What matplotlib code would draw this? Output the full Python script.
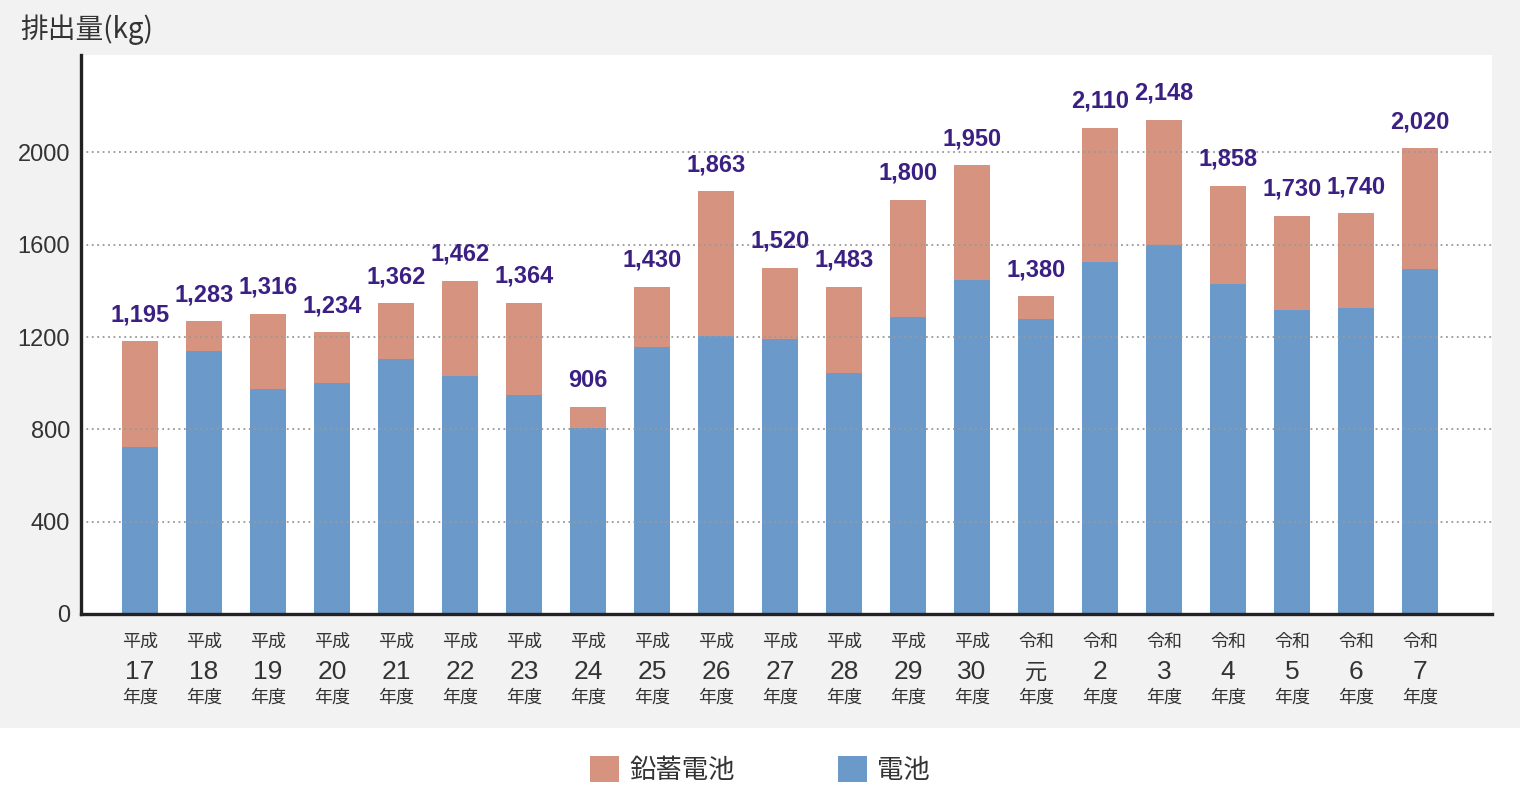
import matplotlib.pyplot as plt
import numpy as np
from matplotlib.patches import Patch, Rectangle
from matplotlib.transforms import blended_transform_factory

# fiscal years: era / year number
eras = ['平成'] * 14 + ['令和'] * 7
years = ['17', '18', '19', '20', '21', '22', '23', '24', '25', '26', '27',
         '28', '29', '30', '元', '2', '3', '4', '5', '6', '7']
# 電池 (batteries) and 鉛蓄電池 (lead batteries), kg
battery = [722, 1141, 975, 999, 1103, 1033, 949, 804, 1157, 1206, 1190,
           1044, 1287, 1447, 1277, 1525, 1599, 1429, 1317, 1326, 1495]
lead = [459, 127, 326, 221, 243, 410, 400, 92, 259, 625, 308,
        373, 508, 497, 99, 582, 542, 425, 408, 410, 522]
# printed totals above the bars
totals = ['1,195', '1,283', '1,316', '1,234', '1,362', '1,462', '1,364', '906',
          '1,430', '1,863', '1,520', '1,483', '1,800', '1,950', '1,380',
          '2,110', '2,148', '1,858', '1,730', '1,740', '2,020']
yticks = [0, 400, 800, 1200, 1600, 2000]

BLUE = '#6a99ca'
SALMON = '#d69380'
PURPLE = '#3b1f82'
TEXT = '#333333'
CJK = ['Noto Sans CJK JP', 'DejaVu Sans']
NUM = ['Liberation Sans', 'DejaVu Sans']

fig = plt.figure(figsize=(15.2, 7.9), dpi=100, facecolor='#f2f2f2')
# white band behind the legend
fig.patches.append(Rectangle((0, 0), 1, 62 / 790, transform=fig.transFigure,
                             facecolor='white', edgecolor='none', zorder=0))
ax = fig.add_axes([81 / 1520, 1 - 614 / 790, (1492 - 81) / 1520, (614 - 55) / 790])
ax.set_facecolor('white')

x = np.arange(len(years))
w = 0.5625
ax.bar(x, battery, w, color=BLUE, zorder=1)
ax.bar(x, lead, w, bottom=battery, color=SALMON, zorder=1)

# value labels above each stack
tops = np.array(battery) + np.array(lead)
for xi, t, lbl in zip(x, tops, totals):
    ax.annotate(lbl, (xi, t), xytext=(0, 11), textcoords='offset points',
                ha='center', va='bottom', fontsize=17, fontweight='bold',
                color=PURPLE, family=NUM)

ax.set_xlim(-0.92, 21.125)
ax.set_ylim(0, 2422)
ax.set_yticks(yticks)
ax.set_yticklabels([str(v) for v in yticks], fontsize=17, color=TEXT, family=NUM)
ax.tick_params(axis='y', length=0, pad=8)
ax.set_xticks([])
ax.set_axisbelow(False)
ax.yaxis.grid(True, linestyle=(0, (1, 2)), color='#999999', linewidth=1.3)
ax.yaxis.get_gridlines()[0].set_visible(False)

for s in ['top', 'right']:
    ax.spines[s].set_visible(False)
for s in ['left', 'bottom']:
    ax.spines[s].set_color('#222222')
    ax.spines[s].set_linewidth(2.4)
    ax.spines[s].set_zorder(4)

# three-line category labels below the axis
tr = blended_transform_factory(ax.transData, ax.transAxes)
for xi, era, yr in zip(x, eras, years):
    ax.text(xi, -0.050, era, transform=tr, ha='center', va='center',
            fontsize=13, color=TEXT, family=CJK)
    ax.text(xi, -0.104, yr, transform=tr, ha='center', va='center',
            fontsize=19 if yr != '元' else 16, color=TEXT,
            family=NUM if yr != '元' else CJK)
    ax.text(xi, -0.150, '年度', transform=tr, ha='center', va='center',
            fontsize=13, color=TEXT, family=CJK)

fig.text(20 / 1520, 1 - 30 / 790, '排出量(kg)', ha='left', va='center',
         fontsize=20, color=TEXT, family=CJK)

handles = [Patch(facecolor=SALMON, label='鉛蓄電池'),
           Patch(facecolor=BLUE, label='電池')]
fig.legend(handles=handles, loc='center', bbox_to_anchor=(0.5, 1 - 770 / 790),
           ncol=2, frameon=False, prop={'family': CJK, 'size': 19},
           handlelength=1.1, handleheight=1.1, handletextpad=0.4,
           columnspacing=3.9, labelcolor=TEXT)

fig.savefig('out.png', dpi=100, facecolor=fig.get_facecolor())
